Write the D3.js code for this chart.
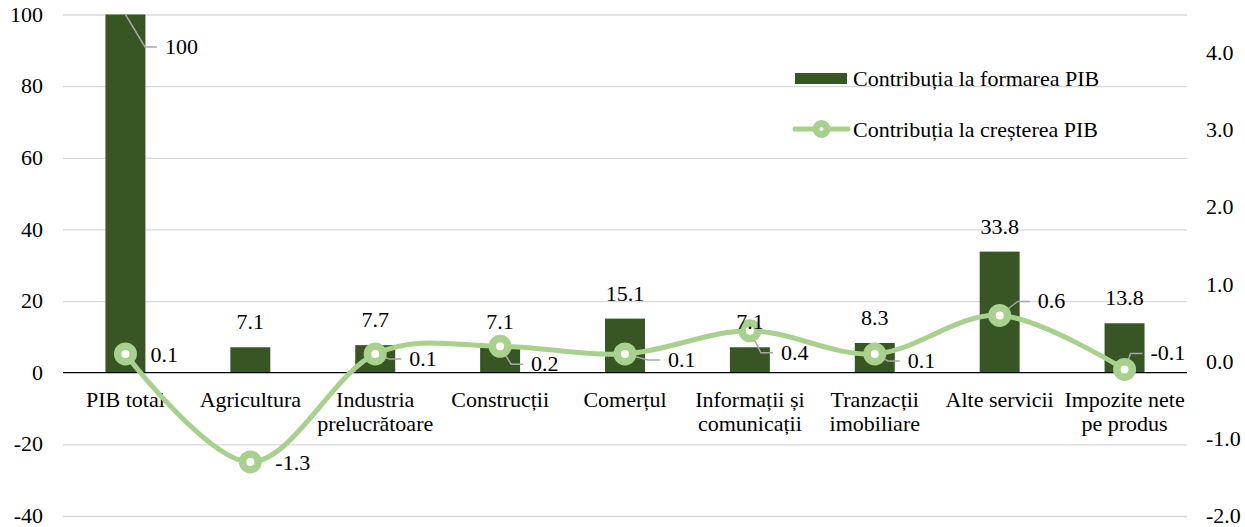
<!DOCTYPE html>
<html><head><meta charset="utf-8">
<script src="https://cdn.jsdelivr.net/npm/d3@7"></script>
<style>body{margin:0;background:#fff}svg{display:block}</style>
</head><body><svg id="c" width="1245" height="527" style="font-family:'Liberation Serif','Times New Roman','DejaVu Serif',serif"></svg>
<script>
const categories = ["PIB total","Agricultura","Industria\nprelucrătoare","Construcții","Comerțul","Informații și\ncomunicații","Tranzacții\nimobiliare","Alte servicii","Impozite nete\npe produs"];
const formare = [100, 7.1, 7.7, 7.1, 15.1, 7.1, 8.3, 33.8, 13.8];
const crestere = [0.1, -1.3, 0.1, 0.2, 0.1, 0.4, 0.1, 0.6, -0.1];
const leftTicks = [-40, -20, 0, 20, 40, 60, 80, 100];
const rightTicks = [-2, -1, 0, 1, 2, 3, 4];
const seriesNames = ["Contribuția la formarea PIB", "Contribuția la creșterea PIB"];

// label placement (layout only)
const lineLabelOffsets = [[25,8,false],[25,8,false],[34,12,true],[31,25,true],[43,13,true],[31,29,true],[33,14,true],[38,-7,true],[26,-9,true]];

const FONT = "'Liberation Serif','Times New Roman','DejaVu Serif',serif";
const svg = d3.select("#c");
const m = {l: 63, r: 1187, t: 14.5, b: 516};
const FS = 22;
const barColor = "#375623", lineColor = "#a9d18e", gridColor = "#d9d9d9", leaderColor = "#a6a6a6";
const fmt1 = v => d3.format(".1f")(v).replace("\u2212", "-");
const fmt0 = v => d3.format("d")(v).replace("\u2212", "-");

const x = d3.scaleBand().domain(categories).range([m.l, m.r]).paddingInner(0.68).paddingOuter(0.34);
const yL = d3.scaleLinear().domain([-40, 100]).range([m.b, m.t]);
const yR = d3.scaleLinear().domain([-2, 4.5]).range([m.b, m.t]);
const cx = c => x(c) + x.bandwidth()/2;

function txt(g) { return g.append("text").style("font-family", FONT).attr("font-size", FS).attr("fill", "#000"); }

// gridlines + left axis
const gAxisL = svg.append("g").attr("transform", `translate(${m.l},0)`)
  .call(d3.axisLeft(yL).tickValues(leftTicks).tickSize(-(m.r - m.l)).tickPadding(20).tickFormat(fmt0));
gAxisL.select(".domain").remove();
gAxisL.selectAll(".tick line").attr("stroke", d => d === 0 ? "none" : gridColor).attr("stroke-width", 1.3);
gAxisL.selectAll(".tick text").attr("font-size", FS).style("font-family", FONT).attr("fill", "#000").attr("dy", "0.3em");

const gAxisR = svg.append("g").attr("transform", `translate(${m.r},0)`)
  .call(d3.axisRight(yR).tickValues(rightTicks).tickSize(0).tickPadding(19).tickFormat(fmt1));
gAxisR.select(".domain").remove();
gAxisR.selectAll(".tick text").attr("font-size", FS).style("font-family", FONT).attr("fill", "#000").attr("dy", "0.3em");

// bars
svg.append("g").selectAll("rect").data(formare).join("rect")
  .attr("x", (d,i) => x(categories[i])).attr("width", x.bandwidth())
  .attr("y", d => yL(Math.max(0,d))).attr("height", d => Math.abs(yL(d) - yL(0)))
  .attr("fill", barColor);

// zero line
svg.append("line").attr("x1", m.l).attr("x2", m.r).attr("y1", yL(0)).attr("y2", yL(0)).attr("stroke", "#000").attr("stroke-width", 1.3);

// category labels
const catG = svg.append("g");
categories.forEach(c => {
  const t = txt(catG).attr("x", cx(c)).attr("y", 407).attr("text-anchor", "middle");
  c.split("\n").forEach((ln, j) => t.append("tspan").attr("x", cx(c)).attr("dy", j ? 23.5 : 0).text(ln));
});

// line
const pts = crestere.map((v,i) => [cx(categories[i]), yR(v)]);
svg.append("path").datum(pts).attr("d", d3.line().curve(d3.curveCatmullRom.alpha(0)))
  .attr("fill", "none").attr("stroke", lineColor).attr("stroke-width", 5).attr("stroke-linecap", "round");

// leaders
const leadG = svg.append("g").attr("fill", "none").attr("stroke", leaderColor).attr("stroke-width", 1.5);
function leader(px, py, tx, base) {
  const ey = base - 7, ex = tx - 8, bx = ex - 12;
  leadG.append("polyline").attr("points", `${px},${py} ${bx},${ey} ${ex},${ey}`);
}
leader(cx(categories[0]), yL(formare[0]), 165, 54);

// markers
svg.append("g").selectAll("circle").data(pts).join("circle")
  .attr("cx", d => d[0]).attr("cy", d => d[1]).attr("r", 7.75)
  .attr("fill", "#fff").attr("stroke", lineColor).attr("stroke-width", 7.5);

// bar labels
const blG = svg.append("g");
formare.forEach((v,i) => {
  if (i === 0) {
    txt(blG).attr("x", 165).attr("y", 54).text(fmt0(v));
  } else {
    txt(blG).attr("x", cx(categories[i])).attr("y", yL(v) - 18).attr("text-anchor", "middle").text(fmt1(v));
  }
});

// line labels
const llG = svg.append("g");
crestere.forEach((v,i) => {
  const [dx, dy, hasLeader] = lineLabelOffsets[i];
  const [px, py] = pts[i];
  const tx = px + dx, base = py + dy;
  if (hasLeader) leader(px, py, tx, base);
  txt(llG).attr("x", tx).attr("y", base).text(fmt1(v));
});

// legend
const lg = svg.append("g");
lg.append("rect").attr("x", 795).attr("y", 73).attr("width", 52).attr("height", 11).attr("fill", barColor);
txt(lg).attr("x", 853).attr("y", 86).text(seriesNames[0]);
lg.append("line").attr("x1", 795).attr("x2", 848).attr("y1", 129).attr("y2", 129).attr("stroke", lineColor).attr("stroke-width", 5).attr("stroke-linecap", "round");
lg.append("circle").attr("cx", 821.5).attr("cy", 129).attr("r", 5.5).attr("fill", "#fff").attr("stroke", lineColor).attr("stroke-width", 7);
txt(lg).attr("x", 853).attr("y", 137).text(seriesNames[1]);
</script></body></html>
